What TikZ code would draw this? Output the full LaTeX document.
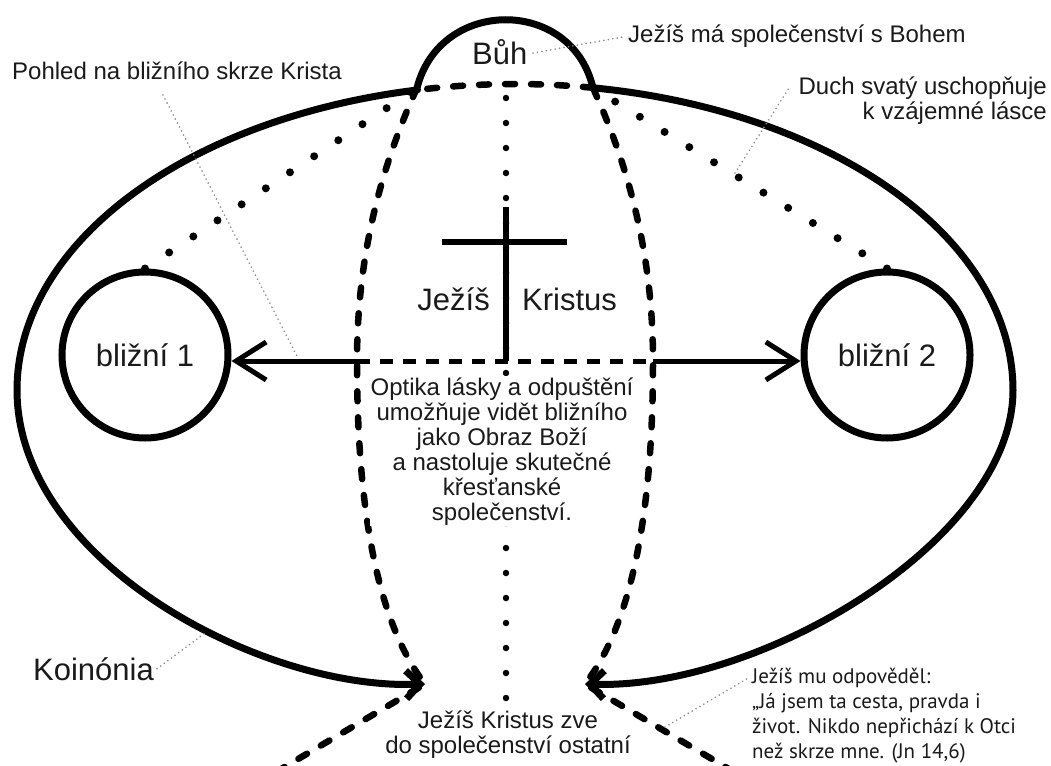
\documentclass[tikz,border=0pt]{standalone}
\usepackage{fontspec}
\setmainfont{Liberation Sans}
\newfontfamily\quotefont{PT Sans}
\usetikzlibrary{arrows.meta}
\definecolor{ink}{HTML}{1A1A1A}
\definecolor{lead}{HTML}{8A8A8A}
\tikzset{
  outline/.style={line width=7pt, line cap=round},
  lensdash/.style={line width=6.5pt, dash pattern=on 10pt off 16pt, line cap=round},
  middash/.style={line width=5pt, dash pattern=on 13pt off 10pt},
  bigdots/.style={line width=8pt, line cap=round, dash pattern=on 0pt off 29pt},
  smalldots/.style={line width=6.5pt, line cap=round, dash pattern=on 0pt off 25pt},
  leader/.style={draw=lead, line width=1.8pt, line cap=round, dash pattern=on 0pt off 4.5pt},
  person/.style={circle, draw, line width=7pt, minimum size=166pt, inner sep=0pt, text=ink, font=\fontsize{31}{31}\selectfont},
  big/.style={font=\fontsize{31}{31}\selectfont, text=ink, inner sep=0pt},
  mid/.style={font=\fontsize{24}{25}\selectfont, text=ink, inner sep=0pt},
  barb/.style={-{Straight Barb[length=30pt,width=38pt]}, line width=5pt},
  armtip/.style={-{Straight Barb[length=14pt,width=28pt]}},
  crossline/.style={line width=6.5pt},
}
\begin{document}
\begin{tikzpicture}[x=1pt,y=-1pt]
\useasboundingbox (0,0) rectangle (1051,765);
\clip (0,0) rectangle (1051,765);

% key points
\coordinate (jl) at (417,88);
\coordinate (jr) at (593,88);
\coordinate (hl) at (357,361);
\coordinate (hr) at (653,361);
\coordinate (bl) at (425,684);
\coordinate (br) at (585,684);
\coordinate (tl) at (271,775);
\coordinate (tr) at (739,775);
\coordinate (vtop) at (506,98);
\coordinate (vbot) at (506,765);
\coordinate (ctop) at (506,207);
\coordinate (cbl) at (442,242);
\coordinate (cbr) at (567,242);

% neighbours
\node[person] (n1) at (145,355) {bližní 1};
\node[person] (n2) at (887,355) {bližní 2};

% vertical dotted axis
\draw[smalldots] (vtop) -- (vbot);

% Duch svaty dotted lines
\draw[bigdots] (n1.north) -- (jl);
\draw[bigdots] (n2.north) -- (jr);

% koinonia outline
\draw[outline, armtip] plot[domain=101.3:180, samples=40, smooth] ({515+498*cos(\x)},{390-306*sin(\x)})
  .. controls (17,560) and (260,690) .. (bl);
\draw[outline, armtip] plot[domain=81:0, samples=40, smooth] ({515+498*cos(\x)},{390-306*sin(\x)})
  .. controls (1013,540) and (760,690) .. (br);
\draw[lensdash] plot[domain=81:101.3, samples=10, smooth] ({515+498*cos(\x)},{390-306*sin(\x)});

% God dome
\draw[outline] (jl) .. controls (440,-3) and (572,-3) .. (jr);

% lens
\draw[lensdash] (jl) .. controls (375,180) and (357,270) .. (hl)
  .. controls (357,500) and (375,620) .. (bl) -- (tl);
\draw[lensdash] (jr) .. controls (635,180) and (653,270) .. (hr)
  .. controls (653,500) and (635,620) .. (br) -- (tr);

% middle
\draw[middash] (hl) -- (hr);
\draw[barb] (hl) -- (hl -| n1.east);
\draw[barb] (hr) -- (hr -| n2.west);

% cross
\draw[crossline] (ctop) -- (ctop |- hl);
\draw[crossline] (cbl) -- (cbr);

% texts (base anchor of a multi-line node = last line)
\node[big, anchor=base west] (buh) at (472,65) {Bůh};
\node[big, anchor=base east] (jez) at (490,310) {Ježíš};
\node[big, anchor=base west] (kri) at (522,310) {Kristus};
\node[big, anchor=base west, inner sep=3pt] (koin) at (30,680) {Koinónia};
\node[mid, anchor=base west] (pohled) at (12,80) {Pohled na bližního skrze Krista};
\node[mid, anchor=base west, inner sep=3pt] (jms) at (625,43) {Ježíš má společenství s Bohem};
\node[mid, align=right, anchor=base east] (duch) at (1047,120) {Duch svatý uschopňuje\\k vzájemné lásce};
\node[mid, align=center, fill=white, inner sep=1pt, anchor=base] (opt) at (502,520)
  {Optika lásky a odpuštění\\umožňuje vidět bližního\\jako Obraz Boží\\a nastoluje skutečné\\křesťanské\\společenství.};
\node[mid, align=center, fill=white, inner sep=1pt, anchor=base] (zve) at (508,753)
  {Ježíš Kristus zve\\do společenství ostatní};
\node[font=\quotefont\fontsize{21}{25}\selectfont, text=ink, align=left, anchor=base west, inner sep=0pt] (q) at (752,758)
  {Ježíš mu odpověděl:\\„Já jsem ta cesta, pravda i\\život. Nikdo nepřichází k Otci\\než skrze mne. (Jn 14,6)};

% leaders
\coordinate (lp1) at (163,95);
\coordinate (lp2) at (297,356);
\draw[leader] (lp1) -- (lp2);
\coordinate (lb) at (533,53);
\draw[leader] (lb) -- (jms.west);
\coordinate (ld1) at (735,173);
\coordinate (ld2) at (789,88);
\draw[leader] (ld1) -- (ld2);
\coordinate (lk) at (205,633);
\draw[leader] (koin.east) -- (lk);
\coordinate (lq1) at (665,727);
\coordinate (lq2) at (750,677);
\draw[leader] (lq1) -- (lq2);
\end{tikzpicture}
\end{document}
